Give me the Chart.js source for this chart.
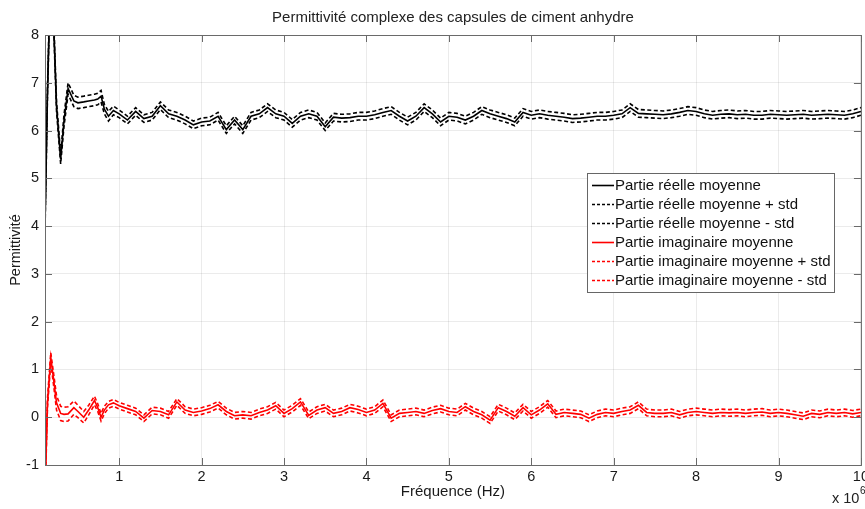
<!DOCTYPE html>
<html lang="fr">
<head>
  <meta charset="UTF-8" />
  <title>Permittivité complexe des capsules de ciment anhydre</title>
  <script src="https://cdn.jsdelivr.net/npm/chart.js"></script>
  <style>
    body { margin: 0; background: #fff; overflow: hidden; }
    #wrap { position: relative; width: 865px; height: 509px; overflow: hidden; }
    canvas { position: absolute; left: 0; top: 0; }
  </style>
</head>
<body>
  <div id="wrap"><canvas id="chart" width="872" height="509"></canvas></div>

  <script>
    // frequences en MHz (x 10^6 Hz)
    const freq = [
      0.1, 0.13, 0.17, 0.2, 0.24, 0.29, 0.33, 0.38, 0.45, 0.5, 0.57, 0.63, 0.7, 0.74, 0.78, 0.82, 0.87, 0.93,
      1.0, 1.1, 1.2, 1.3, 1.4, 1.5, 1.6, 1.7, 1.8, 1.9,
      2.0, 2.1, 2.2, 2.3, 2.4, 2.5, 2.6, 2.7, 2.8, 2.9,
      3.0, 3.1, 3.2, 3.3, 3.4, 3.5, 3.6, 3.7, 3.8, 3.9,
      4.0, 4.1, 4.2, 4.3, 4.4, 4.5, 4.6, 4.7, 4.8, 4.9,
      5.0, 5.1, 5.2, 5.3, 5.4, 5.5, 5.6, 5.7, 5.8, 5.9,
      6.0, 6.1, 6.2, 6.3, 6.4, 6.5, 6.6, 6.7, 6.8, 6.9,
      7.0, 7.1, 7.2, 7.3, 7.4, 7.5, 7.6, 7.7, 7.8, 7.9,
      8.0, 8.1, 8.2, 8.3, 8.4, 8.5, 8.6, 8.7, 8.8, 8.9,
      9.0, 9.1, 9.2, 9.3, 9.4, 9.5, 9.6, 9.7, 9.8, 9.9,
      10.0
    ];
    const realMean = [
      4.0, 6.8, 9.5, 8.5, 6.5, 5.4, 6.2, 6.88, 6.62, 6.58, 6.6, 6.62, 6.64, 6.66, 6.72, 6.45, 6.3, 6.42,
      6.35, 6.22, 6.4, 6.25, 6.3, 6.52, 6.35, 6.3, 6.22, 6.12,
      6.18, 6.2, 6.3, 6.02, 6.22, 6.02, 6.3, 6.35, 6.48, 6.35,
      6.3, 6.15, 6.3, 6.35, 6.3, 6.08, 6.28, 6.26, 6.27, 6.3,
      6.3, 6.33, 6.38, 6.42, 6.3, 6.2, 6.3, 6.48, 6.35, 6.18,
      6.3, 6.28, 6.22, 6.3, 6.42, 6.35, 6.3, 6.25, 6.18, 6.38,
      6.32, 6.35, 6.32, 6.3, 6.28, 6.25, 6.26, 6.28, 6.3, 6.3,
      6.32, 6.35, 6.48, 6.36, 6.35, 6.34, 6.33, 6.35, 6.38, 6.42,
      6.4, 6.35, 6.32, 6.34, 6.35, 6.33, 6.34, 6.32, 6.32, 6.34,
      6.33, 6.32, 6.33, 6.34, 6.32, 6.33, 6.34, 6.33, 6.32, 6.35,
      6.4
    ];
    const realStd = [
      0.1, 0.1, 0.1, 0.1, 0.1, 0.1, 0.12, 0.12, 0.12, 0.12, 0.12, 0.12, 0.12, 0.12, 0.12, 0.1, 0.1, 0.09,
      0.08, 0.08, 0.08, 0.08, 0.08, 0.08, 0.08, 0.08, 0.08, 0.08,
      0.08, 0.08, 0.08, 0.08, 0.08, 0.08, 0.08, 0.08, 0.08, 0.08,
      0.08, 0.08, 0.08, 0.08, 0.08, 0.08, 0.08, 0.08, 0.08, 0.08,
      0.08, 0.08, 0.08, 0.08, 0.08, 0.08, 0.08, 0.08, 0.08, 0.08,
      0.08, 0.08, 0.08, 0.08, 0.08, 0.08, 0.08, 0.08, 0.08, 0.08,
      0.08, 0.08, 0.08, 0.08, 0.08, 0.08, 0.08, 0.08, 0.08, 0.08,
      0.08, 0.08, 0.08, 0.08, 0.08, 0.08, 0.08, 0.08, 0.08, 0.08,
      0.08, 0.08, 0.08, 0.08, 0.08, 0.08, 0.08, 0.08, 0.08, 0.08,
      0.08, 0.08, 0.08, 0.08, 0.08, 0.08, 0.08, 0.08, 0.08, 0.08,
      0.08
    ];
    const imagMean = [
      -1.6, 0.3, 1.25, 0.85, 0.3, 0.08, 0.06, 0.07, 0.2, 0.12, 0.0, 0.15, 0.35, 0.2, 0.0, 0.15, 0.26, 0.3,
      0.24, 0.18, 0.12, -0.02, 0.14, 0.12, 0.05, 0.32, 0.15, 0.1,
      0.13, 0.18, 0.26, 0.12, 0.03, 0.05, 0.03, 0.1, 0.15, 0.24,
      0.08, 0.18, 0.32, 0.04, 0.15, 0.2, 0.08, 0.12, 0.2, 0.16,
      0.1, 0.15, 0.29, -0.02, 0.08, 0.1, 0.12, 0.08, 0.14, 0.18,
      0.12, 0.1, 0.22, 0.12, 0.05, -0.06, 0.2, 0.12, 0.02, 0.2,
      0.05, 0.15, 0.28, 0.06, 0.1, 0.08, 0.06, -0.02, 0.06, 0.1,
      0.08, 0.12, 0.15, 0.25, 0.1, 0.08, 0.08, 0.1, 0.05, 0.1,
      0.12, 0.1, 0.08, 0.1, 0.09, 0.1, 0.08, 0.1, 0.11, 0.08,
      0.1, 0.08, 0.05, 0.02, 0.08, 0.06, 0.1, 0.08, 0.1, 0.07,
      0.1
    ];
    const imagStd = [
      0.1, 0.1, 0.1, 0.12, 0.15, 0.15, 0.15, 0.15, 0.14, 0.13, 0.12, 0.1, 0.09, 0.08, 0.08, 0.08, 0.07, 0.07,
      0.07, 0.07, 0.07, 0.07, 0.07, 0.07, 0.07, 0.07, 0.07, 0.07,
      0.07, 0.07, 0.07, 0.07, 0.07, 0.07, 0.07, 0.07, 0.07, 0.07,
      0.07, 0.07, 0.07, 0.07, 0.07, 0.07, 0.07, 0.07, 0.07, 0.07,
      0.07, 0.07, 0.07, 0.07, 0.07, 0.07, 0.07, 0.07, 0.07, 0.07,
      0.07, 0.07, 0.07, 0.07, 0.07, 0.07, 0.07, 0.07, 0.07, 0.07,
      0.07, 0.07, 0.07, 0.07, 0.07, 0.07, 0.07, 0.07, 0.07, 0.07,
      0.07, 0.07, 0.07, 0.07, 0.07, 0.07, 0.07, 0.07, 0.07, 0.07,
      0.07, 0.07, 0.07, 0.07, 0.07, 0.07, 0.07, 0.07, 0.07, 0.07,
      0.07, 0.07, 0.07, 0.07, 0.07, 0.07, 0.07, 0.07, 0.07, 0.07,
      0.07
    ];
    const xTicks = [1, 2, 3, 4, 5, 6, 7, 8, 9, 10];
    const yTicks = [-1, 0, 1, 2, 3, 4, 5, 6, 7, 8];
    const titre = 'Permittivité complexe des capsules de ciment anhydre';

    const FONT = '"Liberation Sans", Arial, sans-serif';
    const dash = [4, 2.5];

    function serie(label, vals, color, dashed) {
      return {
        label: label,
        data: freq.map((f, i) => ({ x: f, y: vals[i] })),
        borderColor: color,
        borderWidth: 1.6,
        borderDash: dashed ? dash : [],
        pointRadius: 0,
        tension: 0,
        fill: false
      };
    }

    const datasets = [
      serie('Partie réelle moyenne', realMean, '#000', false),
      serie('Partie réelle moyenne + std', realMean.map((v, i) => v + realStd[i]), '#000', true),
      serie('Partie réelle moyenne - std', realMean.map((v, i) => v - realStd[i]), '#000', true),
      serie('Partie imaginaire moyenne', imagMean, '#ff0000', false),
      serie('Partie imaginaire moyenne + std', imagMean.map((v, i) => v + imagStd[i]), '#ff0000', true),
      serie('Partie imaginaire moyenne - std', imagMean.map((v, i) => v - imagStd[i]), '#ff0000', true)
    ];

    // cadre, graduations vers l'interieur, titre, exposant et legende facon matlab
    const decor = {
      id: 'decor',
      afterDatasetsDraw(chart) {
        const { ctx, chartArea: a, scales: { x, y } } = chart;
        ctx.save();
        ctx.strokeStyle = '#6a6a6a';
        ctx.lineWidth = 1;
        ctx.setLineDash([]);
        ctx.strokeRect(a.left + 0.5, a.top + 0.5, a.right - a.left, a.bottom - a.top);
        ctx.beginPath();
        xTicks.forEach(v => {
          const p = Math.round(x.getPixelForValue(v)) + 0.5;
          ctx.moveTo(p, a.bottom); ctx.lineTo(p, a.bottom - 7);
          ctx.moveTo(p, a.top); ctx.lineTo(p, a.top + 7);
        });
        yTicks.forEach(v => {
          const p = Math.round(y.getPixelForValue(v)) + 0.5;
          ctx.moveTo(a.left, p); ctx.lineTo(a.left + 7, p);
          ctx.moveTo(a.right, p); ctx.lineTo(a.right - 7, p);
        });
        ctx.stroke();

        ctx.fillStyle = '#222';
        ctx.font = '15px ' + FONT;
        ctx.textAlign = 'center';
        ctx.textBaseline = 'middle';
        ctx.fillText(titre, (a.left + a.right) / 2, 18);

        ctx.textAlign = 'left';
        ctx.textBaseline = 'alphabetic';
        ctx.font = '14.5px ' + FONT;
        ctx.fillText('x 10', 832, 503);
        ctx.font = '10px ' + FONT;
        ctx.fillText('6', 860, 494);

        // legende
        const lx = 587, ly = 173, lw = 247, lh = 119;
        ctx.fillStyle = '#fff';
        ctx.fillRect(lx, ly, lw, lh);
        ctx.strokeStyle = '#666';
        ctx.strokeRect(lx + 0.5, ly + 0.5, lw, lh);
        ctx.font = '15px ' + FONT;
        ctx.textBaseline = 'middle';
        chart.data.datasets.forEach((d, i) => {
          const yy = Math.round(ly + 12 + i * 18.9) + 0.5;
          ctx.strokeStyle = d.borderColor;
          ctx.lineWidth = 1.6;
          ctx.setLineDash(d.borderDash.length ? [3, 2] : []);
          ctx.beginPath();
          ctx.moveTo(592, yy); ctx.lineTo(614, yy);
          ctx.stroke();
          ctx.fillStyle = '#111';
          ctx.fillText(d.label, 615, yy);
        });
        ctx.restore();
      }
    };

    new Chart(document.getElementById('chart'), {
      type: 'line',
      data: { datasets: datasets },
      options: {
        responsive: false,
        animation: false,
        layout: { padding: { top: 35, right: 10, left: 0, bottom: 0 } },
        plugins: {
          legend: { display: false },
          tooltip: { enabled: false }
        },
        scales: {
          x: {
            type: 'linear',
            min: 0.1,
            max: 10,
            afterBuildTicks: s => { s.ticks = xTicks.map(v => ({ value: v })); },
            afterFit: s => { s.height = 44; },
            ticks: { color: '#1a1a1a', padding: 3, font: { family: FONT, size: 14.5 } },
            grid: { color: 'rgba(0,0,0,0.08)', drawTicks: false },
            border: { display: false },
            title: {
              display: true,
              text: 'Fréquence (Hz)',
              color: '#1a1a1a',
              font: { family: FONT, size: 15 },
              padding: { top: 0, bottom: 8 }
            }
          },
          y: {
            type: 'linear',
            min: -1,
            max: 8,
            afterBuildTicks: s => { s.ticks = yTicks.map(v => ({ value: v })); },
            afterFit: s => { s.width = 45; },
            ticks: { color: '#1a1a1a', padding: 6, font: { family: FONT, size: 14.5 } },
            grid: { color: 'rgba(0,0,0,0.08)', drawTicks: false },
            border: { display: false },
            title: {
              display: true,
              text: 'Permittivité',
              color: '#1a1a1a',
              font: { family: FONT, size: 14.5 },
              padding: { top: 7, bottom: 0 }
            }
          }
        }
      },
      plugins: [decor]
    });
  </script>
</body>
</html>
